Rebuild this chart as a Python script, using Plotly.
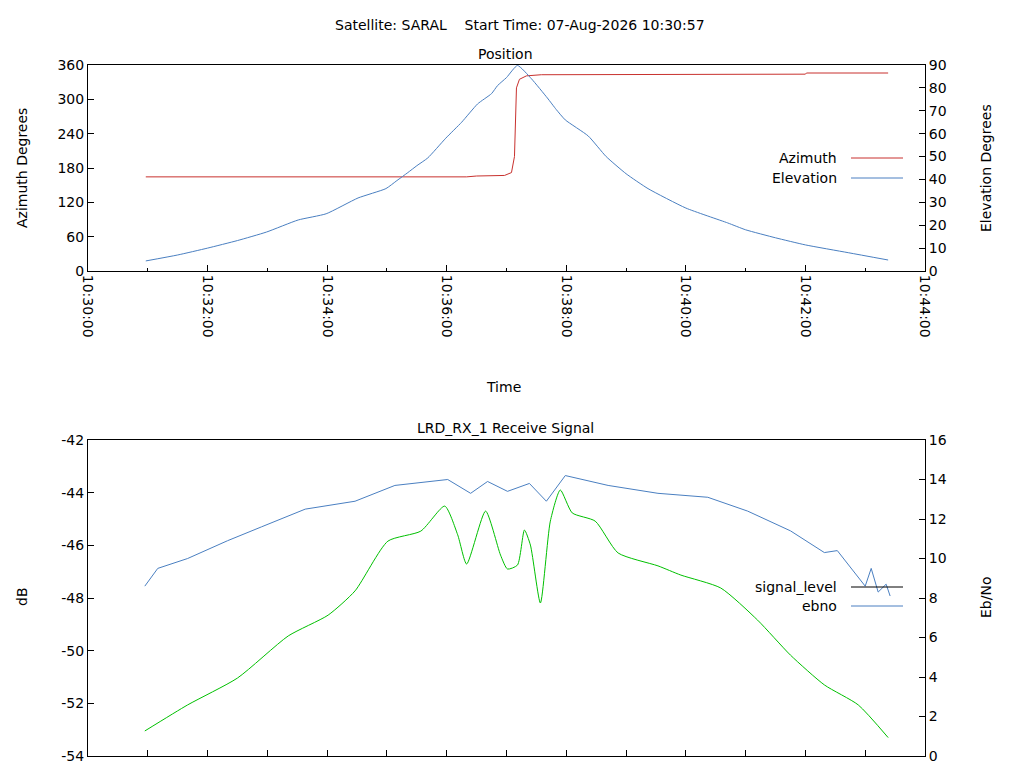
import plotly.graph_objects as go

DAY = "2026-08-07 "
RED, BLUE, GREEN = "#c8312e", "#4a7fc1", "#00c000"
FONT = "DejaVu Sans"

# --- Position panel ---
ELEV_TIME = ["10:30:58", "10:31:30", "10:32:00", "10:32:30", "10:32:59", "10:33:31",
             "10:33:59", "10:34:31", "10:34:59", "10:35:10", "10:35:21", "10:35:30",
             "10:35:41", "10:35:59", "10:36:15", "10:36:31", "10:36:45", "10:36:51",
             "10:37:00", "10:37:11", "10:37:25", "10:37:41", "10:37:50", "10:37:59",
             "10:38:22", "10:38:40", "10:39:00", "10:39:22", "10:40:00", "10:40:42",
             "10:41:00", "10:41:30", "10:42:00", "10:42:43", "10:43:23"]
ELEVATION = [4.4, 7.0, 10.0, 13.3, 17.0, 22.3, 25.0, 31.9, 36.0, 39.5, 43.0, 46.0,
             49.4, 58.0, 65.0, 73.0, 77.5, 81.0, 84.5, 89.8, 84.0, 75.6, 70.5, 66.0,
             59.0, 50.0, 42.5, 36.0, 27.5, 21.0, 18.0, 14.5, 11.4, 8.0, 4.8]

AZ_TIME = ["10:30:58", "10:36:20", "10:36:30", "10:36:58", "10:37:05", "10:37:08",
           "10:37:10", "10:37:13", "10:37:20", "10:37:35", "10:42:00", "10:42:01",
           "10:43:23"]
AZIMUTH = [164.5, 164.5, 166, 167, 172, 200, 320, 335, 341, 343, 344, 346, 346]

# --- Receive signal panel ---
SIG_TIME = ["10:30:57", "10:31:40", "10:32:30", "10:33:21", "10:34:01", "10:34:28",
            "10:35:01", "10:35:34", "10:35:58", "10:36:11", "10:36:20", "10:36:39",
            "10:36:54", "10:37:01", "10:37:11", "10:37:18", "10:37:24", "10:37:34",
            "10:37:44", "10:37:54", "10:38:06", "10:38:29", "10:38:52", "10:39:32",
            "10:39:55", "10:40:35", "10:41:12", "10:41:45", "10:42:19", "10:42:53",
            "10:43:23"]
SIGNAL_DB = [-53.05, -52.06, -51.04, -49.44, -48.65, -47.73, -45.84, -45.46, -44.51,
             -45.6, -46.71, -44.7, -46.37, -46.9, -46.75, -45.42, -45.99, -48.19,
             -45.08, -43.9, -44.77, -45.08, -46.29, -46.78, -47.13, -47.62, -48.84,
             -50.17, -51.3, -52.06, -53.3]

EBNO_TIME = ["10:30:57", "10:31:10", "10:31:40", "10:32:20", "10:32:54", "10:33:38",
             "10:34:28", "10:35:08", "10:36:01", "10:36:24", "10:36:41", "10:37:01",
             "10:37:23", "10:37:40", "10:37:59", "10:38:42", "10:39:32", "10:40:22",
             "10:41:02", "10:41:45", "10:42:19", "10:42:32", "10:43:00", "10:43:06",
             "10:43:13", "10:43:21", "10:43:25"]
EBNO = [8.6, 9.5, 10.0, 10.9, 11.6, 12.5, 12.9, 13.7, 14.0, 13.3, 13.9, 13.4, 13.8,
        12.9, 14.2, 13.7, 13.3, 13.1, 12.4, 11.4, 10.3, 10.4, 8.6, 9.5, 8.3, 8.7, 8.1]

DB_TICKS = [-54, -52, -50, -48, -46, -44, -42]

X_RANGE = [DAY + "10:30:00", DAY + "10:44:00"]


def ts(lst):
    return [DAY + t for t in lst]


fig = go.Figure()
fig.add_scatter(x=ts(AZ_TIME), y=AZIMUTH, mode="lines", line=dict(color=RED, width=1),
                xaxis="x", yaxis="y")
fig.add_scatter(x=ts(ELEV_TIME), y=ELEVATION, mode="lines",
                line=dict(color=BLUE, width=1, shape="spline", smoothing=0.5),
                xaxis="x", yaxis="y2")
fig.add_scatter(x=ts(SIG_TIME), y=SIGNAL_DB, mode="lines",
                line=dict(color=GREEN, width=1, shape="spline", smoothing=0.6),
                xaxis="x2", yaxis="y3")
fig.add_scatter(x=ts(EBNO_TIME), y=EBNO, mode="lines", line=dict(color=BLUE, width=1),
                xaxis="x2", yaxis="y4")

XD = [80 / 1024, 917 / 1024]
TOP = [(768 - 263) / 768, (768 - 57) / 768]
BOT = [(768 - 748) / 768, (768 - 432) / 768]
axis_common = dict(showline=True, linecolor="black", linewidth=1, showgrid=False,
                   zeroline=False, ticks="inside", ticklen=6, tickcolor="black",
                   automargin=False, tickfont=dict(size=14, color="black"))

fig.update_layout(
    width=1024, height=768, showlegend=False,
    paper_bgcolor="white", plot_bgcolor="white",
    margin=dict(l=0, r=0, t=0, b=0),
    font=dict(family=FONT, size=14, color="black"),
    xaxis=dict(axis_common, domain=XD, anchor="y", range=X_RANGE, mirror=True,
               tickformat="%H:%M:%S", dtick=120000, tickangle=90,
               tick0=DAY + "10:30:00",
               minor=dict(dtick=60000, ticks="inside", ticklen=3, tickcolor="black")),
    yaxis=dict(axis_common, domain=TOP, anchor="x", range=[0, 360], dtick=60),
    yaxis2=dict(axis_common, overlaying="y", side="right", anchor="x",
                range=[0, 90], dtick=10),
    xaxis2=dict(axis_common, domain=XD, anchor="y3", range=X_RANGE, mirror=True,
                dtick=60000, tick0=DAY + "10:30:00", showticklabels=False),
    yaxis3=dict(axis_common, domain=BOT, anchor="x2", range=[-54, -42],
                tickvals=DB_TICKS, ticktext=[str(v) for v in DB_TICKS]),
    yaxis4=dict(axis_common, overlaying="y3", side="right", anchor="x2",
                range=[0, 16], dtick=2),
)


def px(x, y):
    return x / 1024, 1 - y / 768


def text(x, y, s, anchor="center", angle=0):
    xx, yy = px(x, y)
    fig.add_annotation(x=xx, y=yy, xref="paper", yref="paper", text=s, showarrow=False,
                       xanchor=anchor, yanchor="middle", textangle=angle,
                       font=dict(size=14, color="black"))


text(512, 17, "Satellite: SARAL &nbsp;&nbsp;&nbsp;Start Time: 07-Aug-2026 10:30:57")
text(497, 46, "Position")
text(495, 379, "Time")
text(497, 420, "LRD_RX_1 Receive Signal")
text(14, 160, "Azimuth Degrees", angle=-90)
text(978, 160, "Elevation Degrees", angle=-90)
text(14, 589, "dB", angle=-90)
text(978, 589, "Eb/No", angle=-90)

for label, y, color in [("Azimuth", 150, RED), ("Elevation", 170, BLUE),
                        ("signal_level", 579, "black"), ("ebno", 598, BLUE)]:
    text(831, y, label, anchor="right")
    x0, yy = px(843, y)
    x1, _ = px(895, y)
    fig.add_shape(type="line", xref="paper", yref="paper", x0=x0, x1=x1, y0=yy, y1=yy,
                  line=dict(color=color, width=1))

fig.write_html("out.html")
